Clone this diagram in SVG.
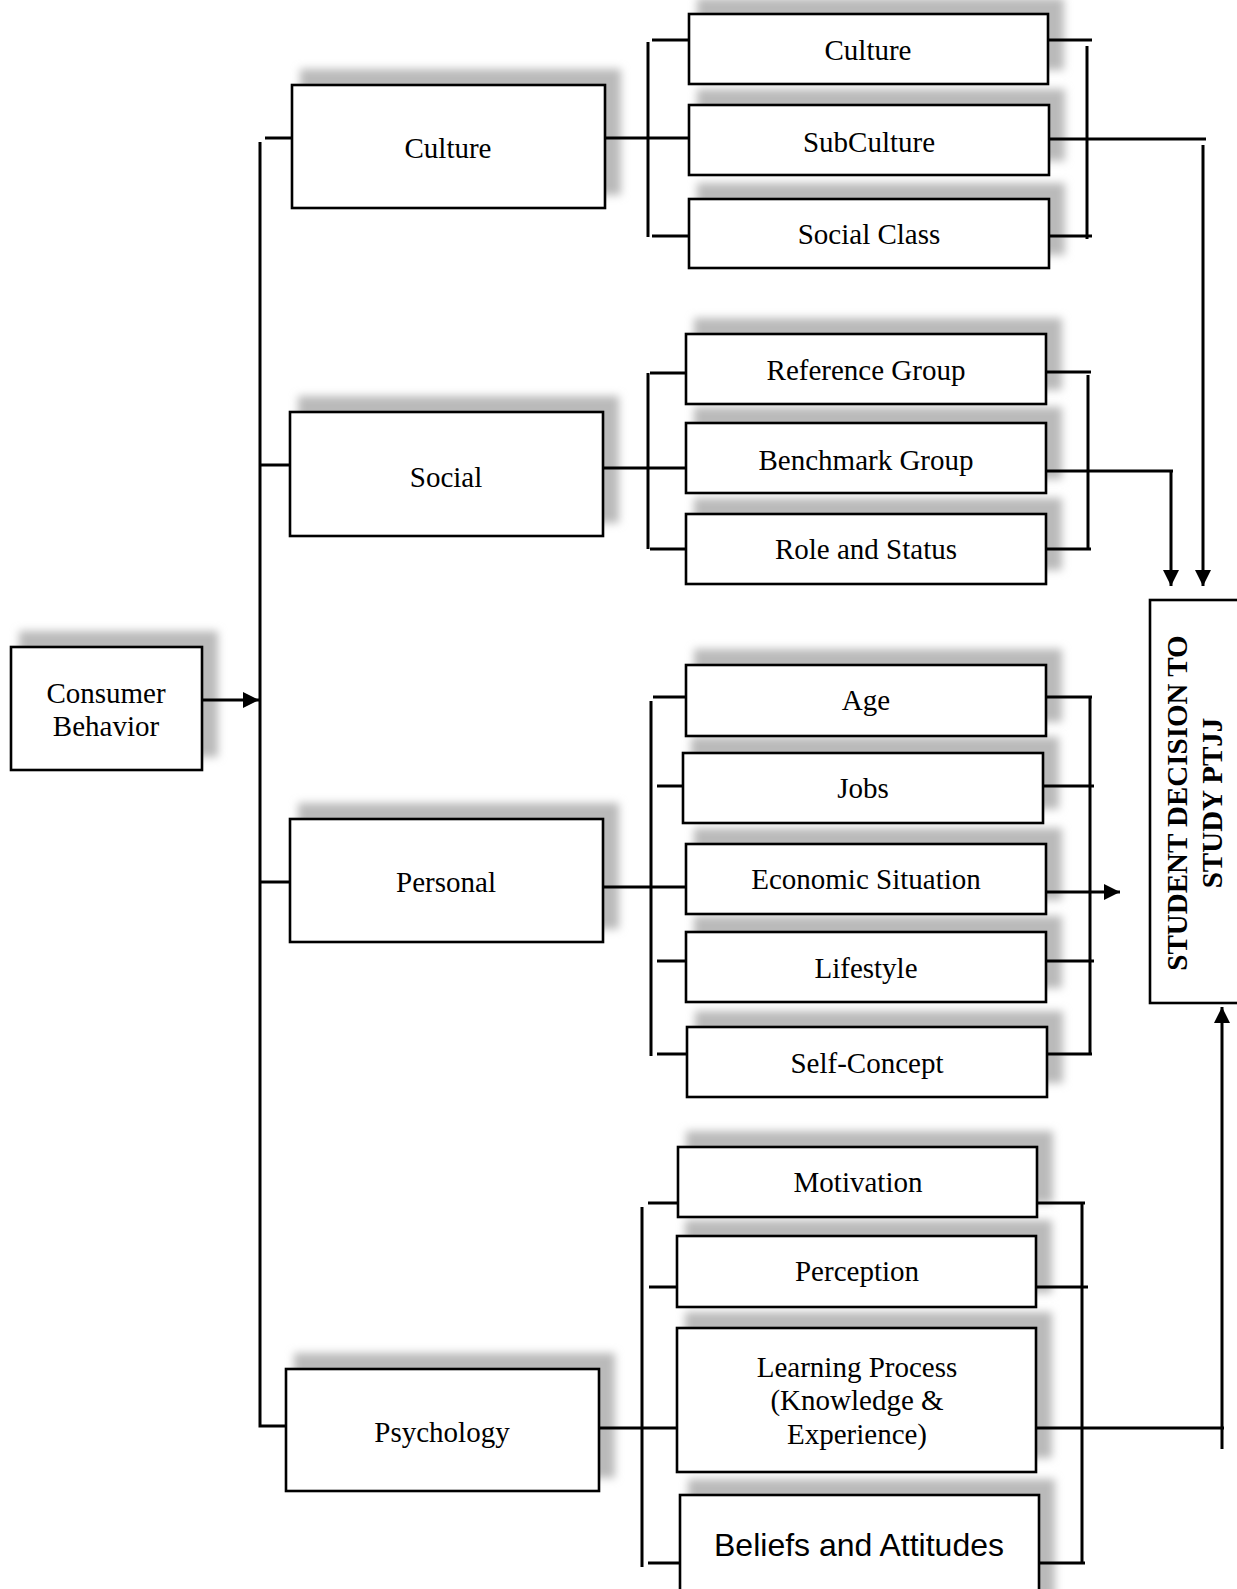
<svg xmlns="http://www.w3.org/2000/svg" width="1237" height="1589" viewBox="0 0 1237 1589">
<style>
.box{fill:#fff;stroke:#000;stroke-width:2.6}
.sh{fill:#bababa;filter:url(#blur)}
.t{font-family:"Liberation Serif","Times New Roman",serif;font-size:29px;fill:#000;text-anchor:middle}
.ta{font-family:"Liberation Sans",Arial,sans-serif;font-size:32px;fill:#000;text-anchor:middle}
.tb{font-family:"Liberation Serif","Times New Roman",serif;font-size:29px;font-weight:bold;fill:#000;text-anchor:middle}
.ln{fill:none;stroke:#000;stroke-width:3}
</style>
<defs>
<filter id="blur" x="-10%" y="-40%" width="120%" height="180%"><feGaussianBlur stdDeviation="4.5"/></filter>
<marker id="arr" markerUnits="userSpaceOnUse" markerWidth="17" markerHeight="17" refX="16" refY="8" orient="auto"><path d="M0,0 L16,8 L0,16 z" fill="#000"/></marker>
</defs>
<rect width="1237" height="1589" fill="#fff"/>

<g id="consumer">
<rect class="sh" x="19" y="631" width="199" height="126"/>
<rect class="box" x="11" y="647" width="191" height="123"/>
<text class="t" x="106" y="703">Consumer</text>
<text class="t" x="106" y="736">Behavior</text>
</g>

<g id="main-culture">
<rect class="sh" x="300" y="69" width="321" height="126"/>
<rect class="box" x="292" y="85" width="313" height="123"/>
<text class="t" x="448" y="158">Culture</text>
</g>
<g id="main-social">
<rect class="sh" x="298" y="396" width="321" height="127"/>
<rect class="box" x="290" y="412" width="313" height="124"/>
<text class="t" x="446" y="487">Social</text>
</g>
<g id="main-personal">
<rect class="sh" x="298" y="803" width="321" height="126"/>
<rect class="box" x="290" y="819" width="313" height="123"/>
<text class="t" x="446" y="892">Personal</text>
</g>
<g id="main-psychology">
<rect class="sh" x="294" y="1353" width="321" height="125"/>
<rect class="box" x="286" y="1369" width="313" height="122"/>
<text class="t" x="442" y="1442">Psychology</text>
</g>

<g id="c-socialclass">
<rect class="sh" x="697" y="183" width="368" height="72"/>
<rect class="box" x="689" y="199" width="360" height="69"/>
<text class="t" x="869" y="244">Social Class</text>
</g>
<g id="c-subculture">
<rect class="sh" x="697" y="89" width="368" height="72"/>
<rect class="box" x="689" y="105" width="360" height="70"/>
<text class="t" x="869" y="152">SubCulture</text>
</g>
<g id="c-culture">
<rect class="sh" x="697" y="-2" width="367" height="72"/>
<rect class="box" x="689" y="14" width="359" height="70"/>
<text class="t" x="868" y="60">Culture</text>
</g>

<g id="s-role">
<rect class="sh" x="694" y="498" width="368" height="72"/>
<rect class="box" x="686" y="514" width="360" height="70"/>
<text class="t" x="866" y="559">Role and Status</text>
</g>
<g id="s-bench">
<rect class="sh" x="694" y="407" width="368" height="72"/>
<rect class="box" x="686" y="423" width="360" height="70"/>
<text class="t" x="866" y="470">Benchmark Group</text>
</g>
<g id="s-ref">
<rect class="sh" x="694" y="318" width="368" height="72"/>
<rect class="box" x="686" y="334" width="360" height="70"/>
<text class="t" x="866" y="380">Reference Group</text>
</g>

<g id="p-self">
<rect class="sh" x="695" y="1011" width="368" height="72"/>
<rect class="box" x="687" y="1027" width="360" height="70"/>
<text class="t" x="867" y="1073">Self-Concept</text>
</g>
<g id="p-life">
<rect class="sh" x="694" y="916" width="368" height="72"/>
<rect class="box" x="686" y="932" width="360" height="70"/>
<text class="t" x="866" y="978">Lifestyle</text>
</g>
<g id="p-econ">
<rect class="sh" x="694" y="828" width="368" height="72"/>
<rect class="box" x="686" y="844" width="360" height="70"/>
<text class="t" x="866" y="889">Economic Situation</text>
</g>
<g id="p-jobs">
<rect class="sh" x="691" y="737" width="368" height="72"/>
<rect class="box" x="683" y="753" width="360" height="70"/>
<text class="t" x="863" y="798">Jobs</text>
</g>
<g id="p-age">
<rect class="sh" x="694" y="649" width="368" height="73"/>
<rect class="box" x="686" y="665" width="360" height="71"/>
<text class="t" x="866" y="710">Age</text>
</g>

<g id="y-beliefs">
<rect class="sh" x="688" y="1479" width="367" height="120"/>
<rect class="box" x="680" y="1495" width="359" height="110"/>
<text class="ta" x="859" y="1556">Beliefs and Attitudes</text>
</g>
<g id="y-learning">
<rect class="sh" x="685" y="1312" width="367" height="146"/>
<rect class="box" x="677" y="1328" width="359" height="144"/>
<text class="t" x="857" y="1377">Learning Process</text>
<text class="t" x="857" y="1410">(Knowledge &amp;</text>
<text class="t" x="857" y="1444">Experience)</text>
</g>
<g id="y-perception">
<rect class="sh" x="685" y="1220" width="367" height="73"/>
<rect class="box" x="677" y="1236" width="359" height="71"/>
<text class="t" x="857" y="1281">Perception</text>
</g>
<g id="y-motivation">
<rect class="sh" x="686" y="1131" width="367" height="72"/>
<rect class="box" x="678" y="1147" width="359" height="70"/>
<text class="t" x="858" y="1192">Motivation</text>
</g>

<g id="student">
<rect class="box" x="1150" y="600" width="100" height="403"/>
<text class="tb" transform="translate(1187,803) rotate(-90)">STUDENT DECISION TO</text>
<text class="tb" transform="translate(1222,803) rotate(-90)">STUDY PTJJ</text>
</g>

<g id="connectors">
<path class="ln" d="M202 700 H259" marker-end="url(#arr)"/>
<path class="ln" d="M260 142 V1426 H286"/>
<path class="ln" d="M265 138 H292"/>
<path class="ln" d="M260 465 H290"/>
<path class="ln" d="M260 882 H290"/>

<path class="ln" d="M648 42 V237"/>
<path class="ln" d="M652 40 H689"/>
<path class="ln" d="M652 236 H689"/>
<path class="ln" d="M605 138 H689"/>
<path class="ln" d="M1048 40 H1092"/>
<path class="ln" d="M1087 46 V239"/>
<path class="ln" d="M1049 236 H1092"/>
<path class="ln" d="M1049 139 H1206"/>
<path class="ln" d="M1203 145 V586" marker-end="url(#arr)"/>

<path class="ln" d="M648 373 V549"/>
<path class="ln" d="M650 373 H686"/>
<path class="ln" d="M650 549 H686"/>
<path class="ln" d="M603 468 H686"/>
<path class="ln" d="M1046 372 H1091"/>
<path class="ln" d="M1046 549 H1091"/>
<path class="ln" d="M1088 375 V550"/>
<path class="ln" d="M1046 471 H1173"/>
<path class="ln" d="M1171 471 V586" marker-end="url(#arr)"/>

<path class="ln" d="M651 701 V1056"/>
<path class="ln" d="M653 697 H686"/>
<path class="ln" d="M657 786 H683"/>
<path class="ln" d="M603 887 H686"/>
<path class="ln" d="M657 961 H686"/>
<path class="ln" d="M657 1054 H687"/>
<path class="ln" d="M1090 697 V1054"/>
<path class="ln" d="M1046 697 H1092"/>
<path class="ln" d="M1043 786 H1094"/>
<path class="ln" d="M1046 961 H1094"/>
<path class="ln" d="M1047 1054 H1092"/>
<path class="ln" d="M1046 892 H1120" marker-end="url(#arr)"/>

<path class="ln" d="M642 1207 V1567"/>
<path class="ln" d="M648 1203 H678"/>
<path class="ln" d="M649 1287 H677"/>
<path class="ln" d="M648 1563 H680"/>
<path class="ln" d="M599 1428 H677"/>
<path class="ln" d="M1082 1203 V1563"/>
<path class="ln" d="M1037 1203 H1085"/>
<path class="ln" d="M1036 1287 H1088"/>
<path class="ln" d="M1039 1563 H1085"/>
<path class="ln" d="M1036 1428 H1224"/>
<path class="ln" d="M1222 1449 V1007" marker-end="url(#arr)"/>
</g>
</svg>
